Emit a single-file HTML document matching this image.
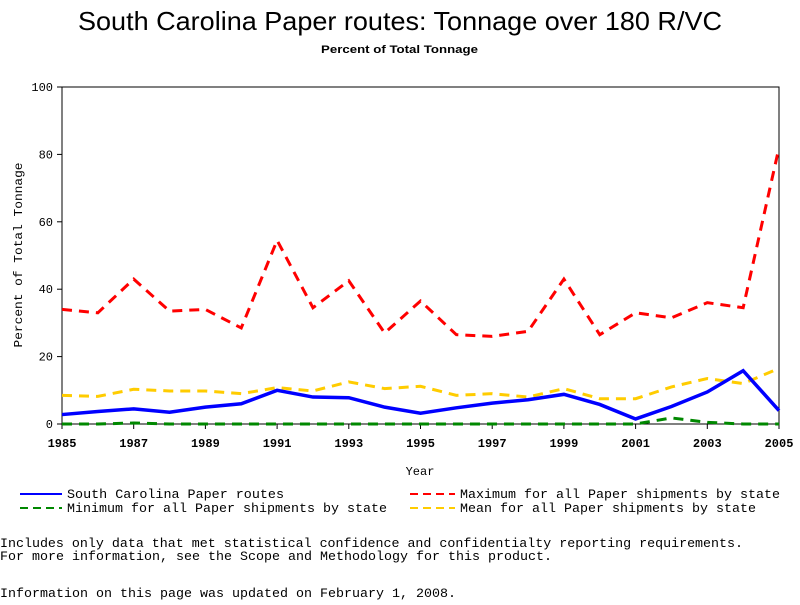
<!DOCTYPE html>
<html><head><meta charset="utf-8"><style>
body{margin:0;background:#fff;width:800px;height:600px;overflow:hidden}
text{font-family:"Liberation Mono",monospace}
</style></head><body>
<svg id="c" width="800" height="600">
<text x="78" y="30" textLength="644" lengthAdjust="spacingAndGlyphs" font-size="26" style="font-family:'Liberation Sans',sans-serif">South Carolina Paper routes: Tonnage over 180 R/VC</text>
<text x="321" y="53" textLength="157" lengthAdjust="spacingAndGlyphs" font-size="11" font-weight="bold" style="font-family:'Liberation Sans',sans-serif">Percent of Total Tonnage</text>
<g id="axes"></g><g id="series"></g>
<text x="420" y="475" text-anchor="middle" font-size="12">Year</text>
<text transform="translate(22,255) rotate(-90)" text-anchor="middle" font-size="12" textLength="185" lengthAdjust="spacingAndGlyphs">Percent of Total Tonnage</text>
<g font-size="13">
<line x1="20" y1="494" x2="62" y2="494" stroke="#00f" stroke-width="2"/><text x="67" y="498" textLength="217" lengthAdjust="spacingAndGlyphs">South Carolina Paper routes</text>
<line x1="410" y1="494" x2="455" y2="494" stroke="#f00" stroke-width="2" stroke-dasharray="8,5"/><text x="460" y="498" textLength="320" lengthAdjust="spacingAndGlyphs">Maximum for all Paper shipments by state</text>
<line x1="20" y1="508" x2="62" y2="508" stroke="#080" stroke-width="2" stroke-dasharray="8,5"/><text x="67" y="512" textLength="320" lengthAdjust="spacingAndGlyphs">Minimum for all Paper shipments by state</text>
<line x1="410" y1="508" x2="455" y2="508" stroke="#fc0" stroke-width="2" stroke-dasharray="8,5"/><text x="460" y="512" textLength="296" lengthAdjust="spacingAndGlyphs">Mean for all Paper shipments by state</text>
</g>
<g font-size="13">
<text x="0" y="547" textLength="743" lengthAdjust="spacingAndGlyphs">Includes only data that met statistical confidence and confidentialty reporting requirements.</text>
<text x="0" y="560" textLength="552" lengthAdjust="spacingAndGlyphs">For more information, see the Scope and Methodology for this product.</text>
<text x="0" y="597" textLength="456" lengthAdjust="spacingAndGlyphs">Information on this page was updated on February 1, 2008.</text>
</g>
</svg>
<script>
const years=[1985,1986,1987,1988,1989,1990,1991,1992,1993,1994,1995,1996,1997,1998,1999,2000,2001,2002,2003,2004,2005];
const sc=[2.8,3.7,4.5,3.5,5,6,10,8,7.8,5,3.2,4.8,6.2,7.2,8.8,5.8,1.5,5.2,9.5,15.8,4];
const maxv=[34,33,43,33.5,34,28.5,54.5,34.5,42.5,27,36.5,26.5,26,27.5,43,26.5,33,31.5,36,34.5,82];
const minv=[0,0,0.3,0,0,0,0,0,0,0,0,0,0,0,0,0,0,1.8,0.5,0,0];
const meanv=[8.5,8.2,10.3,9.8,9.8,9,10.8,9.8,12.5,10.5,11.2,8.5,9,8,10.5,7.5,7.5,11,13.5,12,16.5];
const yTicks=[0,20,40,60,80,100];
const xTicks=[1985,1987,1989,1991,1993,1995,1997,1999,2001,2003,2005];
const X=y=>62+(y-1985)*(779-62)/20, Y=v=>424-v*3.37;
const NS="http://www.w3.org/2000/svg";
const ax=document.getElementById('axes'), se=document.getElementById('series');
function mk(t,a,p){const e=document.createElementNS(NS,t);for(const k in a)e.setAttribute(k,a[k]);p.appendChild(e);return e;}
const fr=mk('rect',{x:62,y:87,width:717,height:337,fill:'none',stroke:'#000','stroke-width':1},ax);


yTicks.forEach(v=>{mk('line',{x1:57,x2:62,y1:Y(v),y2:Y(v),stroke:'#000'},ax);
const t=mk('text',{x:53,y:Y(v)+4,'text-anchor':'end','font-size':12},ax);t.textContent=v;

});
xTicks.forEach(v=>{mk('line',{x1:X(v),x2:X(v),y1:424,y2:429,stroke:'#000'},ax);
const t=mk('text',{x:X(v),y:447,'text-anchor':'middle','font-size':12,'font-weight':'bold'},ax);t.textContent=v;

});
function line(d,c,w,dash,name){const p=mk('polyline',{points:d.map((v,i)=>X(years[i])+','+Y(v)).join(' '),fill:'none',stroke:c,'stroke-width':w,'stroke-dasharray':dash},se);

}
line(minv,'#080',3,'10,7','series-minimum');
line(meanv,'#fc0',3,'10,7','series-mean');
line(maxv,'#f00',3,'10,7','series-maximum');
line(sc,'#00f',3.5,'','series-south-carolina');
</script>
</body></html>
